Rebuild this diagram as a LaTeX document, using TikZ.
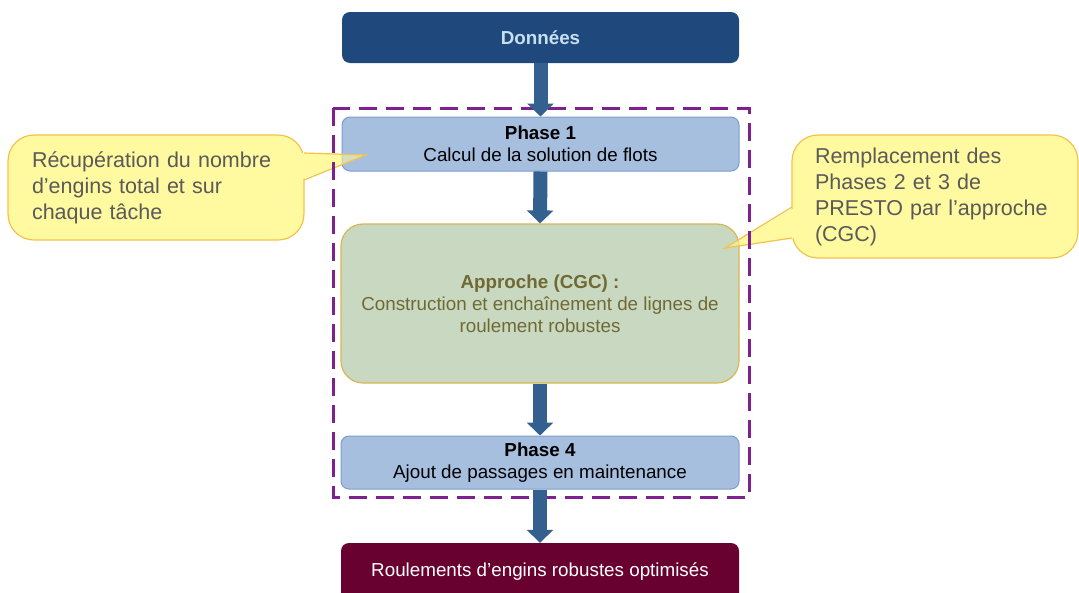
\documentclass[tikz,border=0pt]{standalone}
\usepackage{fontspec}
\setmainfont{Liberation Sans}
\usetikzlibrary{arrows.meta}
\definecolor{dblue}{HTML}{1F497D}
\definecolor{ltxt}{HTML}{C6E0F0}
\definecolor{arrowc}{HTML}{34608F}
\definecolor{phfill}{HTML}{A6BFDF}
\definecolor{phline}{HTML}{7C9DCB}
\definecolor{apfill}{HTML}{C9D8C1}
\definecolor{apline}{HTML}{D8B655}
\definecolor{aptext}{HTML}{6F6A34}
\definecolor{maroon}{HTML}{680030}
\definecolor{calfill}{HTML}{FFF9A0}
\definecolor{calline}{HTML}{F3C24C}
\definecolor{caltext}{HTML}{5A5A5A}
\definecolor{dashc}{HTML}{7E2090}
\begin{document}
\begin{tikzpicture}[x=1pt,y=-1pt,
  flowbox/.style={rectangle, rounded corners=8pt, inner sep=0pt, minimum width=397pt, align=center, font=\fontsize{18.8}{22}\selectfont},
  phasebox/.style={flowbox, fill=phfill, draw=phline, line width=1pt, text=black, minimum height=54pt},
  callbody/.style={rectangle, rounded corners=26pt, fill=calfill, draw=calline, line width=1.2pt, inner sep=0pt, align=left, text=caltext, font=\fontsize{21.5}{26}\selectfont},
  bigarrow/.style={draw=arrowc, line width=14pt, -{Triangle[width=26pt,length=13pt]}, color=arrowc},
  pointerfill/.style={fill=calfill},
  pointerline/.style={draw=calline, line width=1.2pt, line join=miter}
]
\useasboundingbox (0,0) rectangle (1079,592);

% callout bodies
\node[callbody, minimum width=296pt, minimum height=105pt, text width=248pt] (lcall) at (156,187.5)
  {Récupération du nombre\\d’engins total et sur\\chaque tâche};
\node[callbody, minimum width=286pt, minimum height=123pt, text width=240pt] (rcall) at (935,196.5)
  {Remplacement des\\Phases 2 et 3 de\\PRESTO par l’approche\\(CGC)};

% opaque pointers
\fill[pointerfill] (300,153) -- (366,155) -- (300,180) -- cycle;
\fill[pointerfill] (796,207) -- (725,248) -- (796,238) -- cycle;

% flow boxes
\node[flowbox, fill=dblue, minimum height=51pt, text=ltxt, font=\fontsize{18.8}{22}\selectfont\bfseries] (donnees) at (540.5,37.5) {Données};
\node[phasebox] (phase1) at (540.5,144) {\textbf{Phase 1}\\Calcul de la solution de flots};
\node[flowbox, rounded corners=22pt, fill=apfill, draw=apline, line width=1.2pt, text=aptext, minimum width=398pt, minimum height=159pt] (approche) at (540,303.5)
  {\textbf{Approche (CGC) :}\\Construction et enchaînement de lignes de\\roulement robustes};
\node[phasebox, minimum width=398pt, minimum height=53pt] (phase4) at (540,462.5) {\textbf{Phase 4}\\Ajout de passages en maintenance};
\node[flowbox, fill=maroon, minimum width=398pt, minimum height=58pt, text=white] (roul) at (540,572) {Roulements d’engins robustes optimisés};

% translucent pointers on top of boxes
\fill[pointerfill, fill opacity=0.55] (304,153) -- (366,155) -- (304,180) -- cycle;
\fill[pointerfill, fill opacity=0.55] (792,207) -- (725,248) -- (792,238) -- cycle;
\draw[pointerline] (304,153) -- (366,155) -- (304,180);
\draw[pointerline] (792,207) -- (725,248) -- (792,238);

% dashed group frame
\draw[dashc, line width=3pt, dash pattern=on 18pt off 9pt] (333,108) rectangle (749,497);

% arrows
\draw[bigarrow] (donnees.south) -- (phase1.north);
\draw[bigarrow] (phase1.south) -- (approche.north);
\draw[bigarrow] (approche.south) -- (phase4.north);
\draw[bigarrow] (phase4.south) -- (roul.north);
\end{tikzpicture}
\end{document}
